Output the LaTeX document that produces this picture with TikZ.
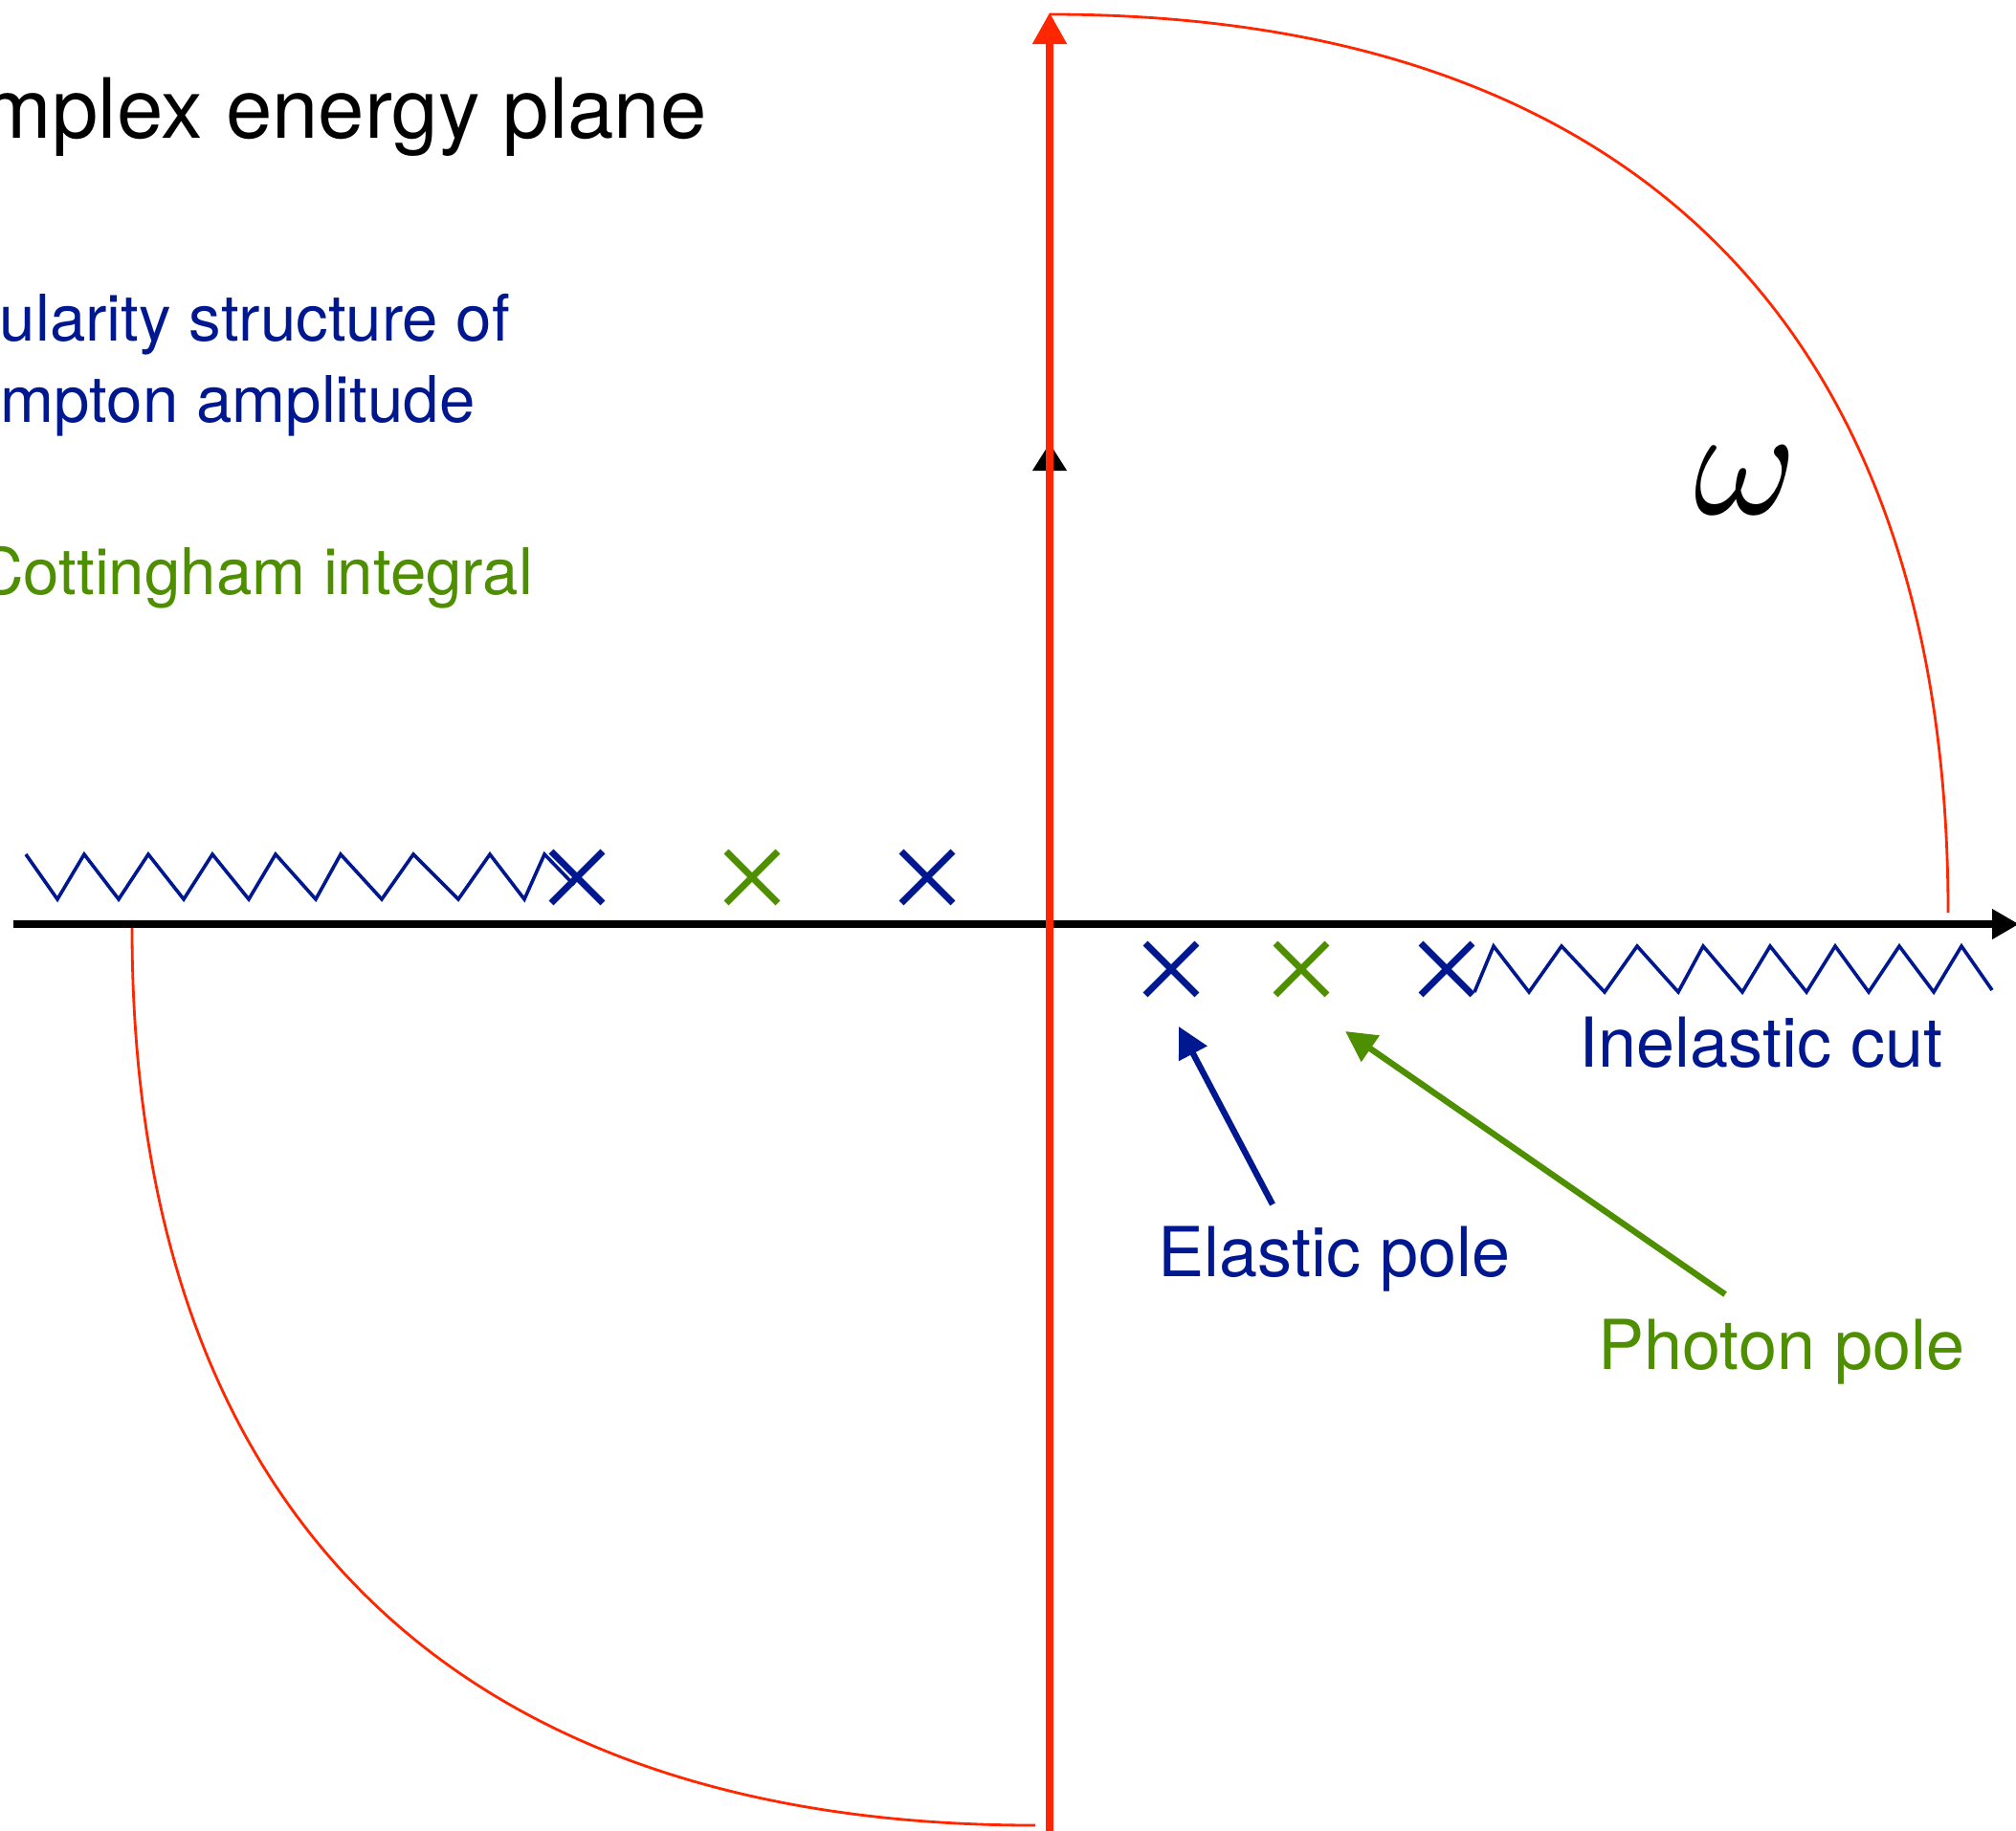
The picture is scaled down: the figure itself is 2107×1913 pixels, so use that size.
\documentclass[tikz,border=0pt]{standalone}
\usepackage{fontspec}
\setmainfont{TeX Gyre Heros}
\usetikzlibrary{arrows.meta,shapes.misc}
\definecolor{cblue}{RGB}{0,24,143}
\definecolor{cgreen}{RGB}{78,143,0}
\definecolor{cred}{RGB}{255,38,0}
\begin{document}
\begin{tikzpicture}[x=0.5pt,y=-0.5pt,
  pole/.style={cross out,draw,line width=3.4pt,minimum size=23.5pt,inner sep=0pt},
  cutline/.style={cblue,line width=1.8pt,line join=miter},
  lbl/.style={inner sep=0pt,anchor=base west,font=\fontsize{36}{43}\selectfont},
  note/.style={inner sep=0pt,anchor=base west,font=\fontsize{33.6}{40}\selectfont},
  contour/.style={cred,line width=1.4pt},
  pointer/.style={line width=3.2pt,-{Triangle[length=16pt,width=16pt]}},
  axis/.style={line width=3.8pt}
]
\useasboundingbox (0,0) rectangle (2107,1913);
\clip (0,0) rectangle (2107,1913);

% axes
\coordinate (O) at (1097,966);
\coordinate (xl) at (14,966);
\coordinate (xr) at (2110,966);
\coordinate (vb) at (1097,1471);
\coordinate (vm) at (1097,463);
\coordinate (vt) at (1097,50);
\coordinate (rb) at (1097,1925);
\coordinate (rt) at (1097,13);
\draw[axis,-{Triangle[length=14pt,width=15pt]}] (xl) -- (xr);
\draw[line width=4.3pt] (vm) -- (vt);
\draw[line width=4.3pt,-{Triangle[length=14.5pt,width=17pt]}] (vb) -- (vm);
\draw[cred,line width=3.9pt,-{Triangle[length=16.5pt,width=17pt]}] (rb) -- (rt);

% contour arcs
\coordinate (ua) at (1097,15);
\coordinate (ub) at (2036,954);
\coordinate (la) at (138,970);
\coordinate (lb) at (1082,1908);
\draw[contour] (ua) .. controls (1707,15) and (2036,344) .. (ub);
\draw[contour] (la) .. controls (138,1580) and (474,1908) .. (lb);

% cuts
\draw[cutline] (27,893) -- (60,940) -- (88,893) -- (124,940) -- (155,893) -- (192,940)
  -- (222,893) -- (260,940) -- (288,893) -- (330,940) -- (356,893) -- (399,940)
  -- (432,893) -- (479,940) -- (512,893) -- (548,940) -- (569,893) -- (600,925);
\draw[cutline] (1541,1037) -- (1561,989) -- (1598,1037) -- (1632,989) -- (1677,1037)
  -- (1711,989) -- (1754,1037) -- (1780,989) -- (1821,1037) -- (1850,989) -- (1888,1037)
  -- (1918,989) -- (1953,1037) -- (1985,989) -- (2021,1037) -- (2050,989) -- (2082,1035);

% poles
\node[pole,cblue]  (pl1) at (603,917) {};
\node[pole,cgreen] (pl2) at (786,917) {};
\node[pole,cblue]  (pl3) at (969,917) {};
\node[pole,cblue]  (pr1) at (1224,1013) {};
\node[pole,cgreen] (pr2) at (1360,1013) {};
\node[pole,cblue]  (pr3) at (1512,1013) {};

% texts
\node[inner sep=0pt,anchor=base west,font=\fontsize{43.5}{52}\selectfont] (title) at (-130,144) {Complex energy plane};
\node[note,cblue] (sing1) at (-135,356) {Singularity structure of};
\node[note,cblue] (sing2) at (-86,441) {Compton amplitude};
\node[note,cgreen] (cott) at (-24,621) {Cottingham integral};
\node[lbl,cblue] (inel) at (1650,1115) {Inelastic cut};
\node[lbl,cblue] (elastic) at (1210,1334) {Elastic pole};
\node[lbl,cgreen] (photon) at (1670,1431) {Photon pole};
\node[scale=8.2,inner sep=0pt] (omega) at (1824,502) {$\omega$};

% pointers
\coordinate (etail) at (1330,1259);
\coordinate (etip) at (1232,1073);
\coordinate (ptail) at (1803,1353);
\coordinate (ptip) at (1406,1078);
\draw[pointer,cblue] (etail) -- (etip);
\draw[pointer,cgreen] (ptail) -- (ptip);
\end{tikzpicture}
\end{document}
